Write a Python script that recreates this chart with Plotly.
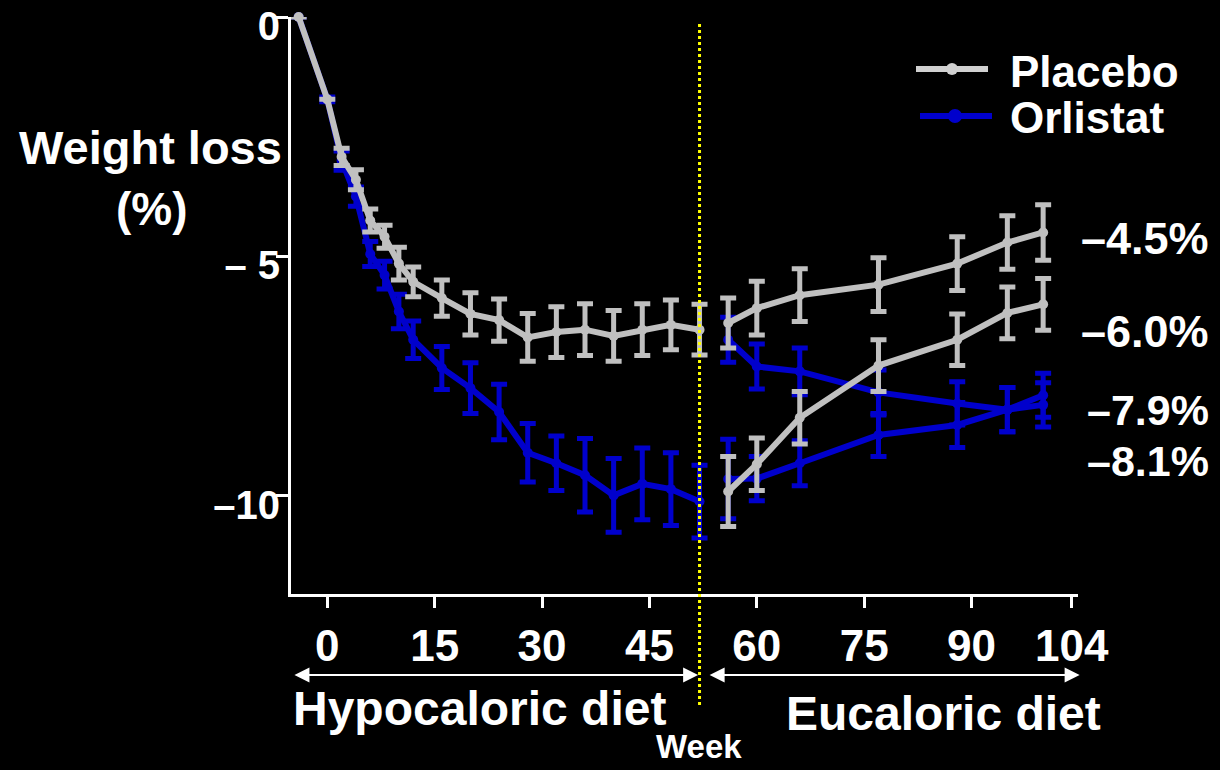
import plotly.graph_objects as go

# ---- data: mean weight change (%) with error bars ----
weeks_hypo = [-4, 0, 2, 4, 6, 8, 10, 12, 16, 20, 24, 28, 32, 36, 40, 44, 48, 52]
placebo_hypo = [0, -1.72, -2.92, -3.40, -4.25, -4.59, -5.15, -5.53, -5.87, -6.20,
                -6.33, -6.69, -6.58, -6.53, -6.66, -6.53, -6.43, -6.53]
placebo_hypo_err = [0, 0, 0.18, 0.21, 0.24, 0.24, 0.34, 0.31, 0.38, 0.44,
                    0.44, 0.50, 0.53, 0.54, 0.53, 0.54, 0.52, 0.53]
orlistat_hypo = [0, -1.72, -3.00, -3.75, -4.95, -5.39, -6.15, -6.74, -7.33, -7.75,
                 -8.25, -9.10, -9.32, -9.57, -9.99, -9.75, -9.86, -10.12]
orlistat_hypo_err = [0, 0.05, 0.20, 0.20, 0.26, 0.29, 0.36, 0.39, 0.45, 0.53,
                     0.58, 0.61, 0.57, 0.77, 0.77, 0.75, 0.76, 0.76]

weeks_euc = [56, 60, 66, 77, 88, 95, 100]
placebo_placebo = [-6.39, -6.08, -5.81, -5.59, -5.15, -4.71, -4.5]
placebo_placebo_err = [0.52, 0.56, 0.55, 0.56, 0.56, 0.56, 0.58]
orlistat_placebo = [-9.91, -9.34, -8.37, -7.28, -6.74, -6.18, -6.0]
orlistat_placebo_err = [0.73, 0.55, 0.55, 0.54, 0.54, 0.54, 0.54]
placebo_orlistat = [-6.74, -7.30, -7.40, -7.84, -8.07, -8.20, -8.1]
placebo_orlistat_err = [0.47, 0.47, 0.49, 0.47, 0.45, 0.46, 0.46]
orlistat_orlistat = [-9.65, -9.64, -9.32, -8.73, -8.52, -8.20, -7.9]
orlistat_orlistat_err = [0.83, 0.46, 0.47, 0.45, 0.47, 0.46, 0.46]

x_ticks = [0, 15, 30, 45, 60, 75, 90, 104]
y_ticks = [0, -5, -10]
y_tick_text = ["0", "– 5", "–10"]
PHASE_SWITCH_WEEK = 52

# ---- styling ----
GRAY = "#C0C0C0"
BLUE = "#0000CC"
FONT = "Liberation Sans, Arial, sans-serif"
W, H = 1220, 770
ML, MR, MT, MB = 291, 142, 17, 176
PW, PH = W - ML - MR, H - MT - MB


def fx(px):
    return (px - ML) / PW


def fy(py):
    return (H - MB - py) / PH


def series(x, y, err, color):
    return go.Scatter(
        x=x, y=y, mode="lines+markers", showlegend=False, cliponaxis=False,
        line=dict(color=color, width=6),
        marker=dict(color=color, size=10),
        error_y=dict(type="data", array=err, color=color, thickness=5, width=8),
    )


fig = go.Figure()
# orlistat groups underneath, placebo groups on top
fig.add_trace(series(weeks_hypo, orlistat_hypo, orlistat_hypo_err, BLUE))
fig.add_trace(series(weeks_euc, placebo_orlistat, placebo_orlistat_err, BLUE))
fig.add_trace(series(weeks_euc, orlistat_orlistat, orlistat_orlistat_err, BLUE))
fig.add_trace(series(weeks_hypo, placebo_hypo, placebo_hypo_err, GRAY))
fig.add_trace(series(weeks_euc, placebo_placebo, placebo_placebo_err, GRAY))
fig.add_trace(series(weeks_euc, orlistat_placebo, orlistat_placebo_err, GRAY))

# dotted marker of the switch from hypocaloric to eucaloric diet
fig.add_shape(type="line", xref="x", yref="paper",
              x0=PHASE_SWITCH_WEEK, x1=PHASE_SWITCH_WEEK, y0=fy(705), y1=fy(22),
              line=dict(color="#FFFF00", width=3, dash="dot"))

annotations = []
# phase arrows under the x axis
for a, b in [(-4.8, 51.8), (53.2, 105.1)]:
    annotations.append(dict(
        x=b, y=fy(675), xref="x", yref="paper", ax=a, ay=0, axref="x", ayref="pixel",
        text="", showarrow=True, arrowside="end+start", arrowhead=2, startarrowhead=2,
        arrowsize=1.5, startarrowsize=1.5, arrowwidth=2, arrowcolor="white"))


def label(text, px, py, size, xanchor="center"):
    annotations.append(dict(
        x=fx(px), y=fy(py), xref="paper", yref="paper", text=text, showarrow=False,
        xanchor=xanchor, yanchor="middle",
        font=dict(family=FONT, size=size, color="white", weight="bold")))


label("Hypocaloric diet", 479, 708, 48)
label("Eucaloric diet", 943, 713, 48)
label("Week", 699, 746, 33)
label("Weight loss", 150, 147, 47)
label("(%)", 152, 209, 46)

# end-of-study labels taken from the final value of each group
end_values = [placebo_placebo[-1], orlistat_placebo[-1],
              orlistat_orlistat[-1], placebo_orlistat[-1]]
end_label_y = [238, 331, 410, 461]
end_label_size = [45, 45, 43, 43]
for v, py, sz in zip(end_values, end_label_y, end_label_size):
    label(f"–{abs(v):.1f}%", 1211, py, sz, xanchor="right")

# legend
for py, color, lx0, lx1, mx, r, name in [
        (69, "#D0D0D0", 916, 988, 952, 6, "Placebo"),
        (116, BLUE, 920, 992, 955, 7, "Orlistat")]:
    fig.add_shape(type="line", xref="paper", yref="paper",
                  x0=fx(lx0), x1=fx(lx1), y0=fy(py), y1=fy(py),
                  line=dict(color=color, width=6))
    fig.add_shape(type="circle", xref="paper", yref="paper",
                  x0=fx(mx - r), x1=fx(mx + r), y0=fy(py + r), y1=fy(py - r),
                  line=dict(width=0), fillcolor=color)
    label(name, 1008, py + 2, 44, xanchor="left")

fig.update_layout(
    width=W, height=H, margin=dict(l=ML, r=MR, t=MT, b=MB, autoexpand=False),
    paper_bgcolor="black", plot_bgcolor="black",
    annotations=annotations, showlegend=False,
    font=dict(family=FONT, color="white", weight="bold"),
)
fig.update_xaxes(
    range=[-5.07, 104.87], tickvals=x_ticks, showgrid=False, zeroline=False,
    showline=True, linecolor="white", linewidth=3, automargin=False,
    ticks="outside", ticklen=11, tickwidth=3, tickcolor="white",
    tickfont=dict(family=FONT, size=44, color="white", weight="bold"),
    ticklabelstandoff=0,
)
fig.update_yaxes(
    range=[-12.05, 0], tickvals=y_ticks, ticktext=y_tick_text,
    showgrid=False, zeroline=False, automargin=False,
    showline=True, linecolor="white", linewidth=3,
    ticks="outside", ticklen=12, tickwidth=3, tickcolor="white",
    tickfont=dict(family=FONT, size=40, color="white", weight="bold"),
    ticklabeloverflow="allow", ticklabelstandoff=-12, ticklabelshift=9,
)

fig.write_html("out.html")
